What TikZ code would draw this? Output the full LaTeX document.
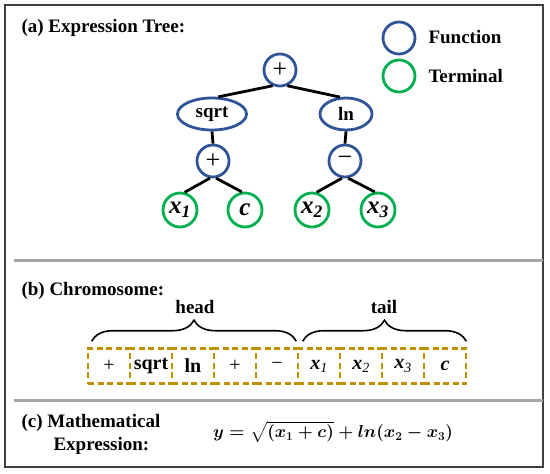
\documentclass[tikz,border=0pt]{standalone}
\usepackage{fontspec}
\setmainfont{Liberation Serif}
\usepackage{amsmath}
\definecolor{funcblue}{RGB}{47,85,151}
\definecolor{termgreen}{RGB}{0,176,80}
\definecolor{genegold}{RGB}{191,144,0}
\definecolor{sepgray}{RGB}{166,166,166}
\definecolor{framegray}{RGB}{64,64,64}
\usetikzlibrary{shapes.geometric,decorations.pathreplacing}

\begin{document}
\begin{tikzpicture}[x=1pt,y=-1pt,
    lbl/.style={font=\fontsize{19}{22}\selectfont\bfseries},
    func/.style={circle,draw=funcblue,line width=2.8pt,minimum size=32pt,inner sep=0pt,
      font=\fontsize{19}{22}\selectfont\bfseries},
    op/.style={func,font=\fontsize{26}{28}\selectfont},
    term/.style={circle,draw=termgreen,line width=2.8pt,minimum size=34pt,inner sep=0pt,
      font=\fontsize{25}{28}\selectfont\bfseries\itshape},
    gene/.style={draw=genegold,line width=2.6pt,dash pattern=on 6pt off 3.5pt,
      minimum width=42pt,minimum height=35pt,inner sep=0pt,font=\fontsize{20}{24}\selectfont},
    link/.style={line width=2.8pt},
    brc/.style={decorate,decoration={brace,amplitude=21pt},line width=1.6pt}]
        \useasboundingbox (0,0) rectangle (550,474);
        \draw[framegray,line width=2.5pt] (5,5) rectangle (543,467);
        \draw[sepgray,line width=3pt] (14,260) -- (543,260);
        \draw[sepgray,line width=3pt] (14,400) -- (543,400);
        % (a) tree
        \node[lbl,anchor=base west] (ttlA) at (18,32) {(a) Expression Tree:};
        \node[func] (keyF) at (399,38) {};
        \node[lbl,anchor=base west] (keyFtxt) at (425,43) {Function};
        \node[term,minimum size=32pt] (keyT) at (399,76) {};
        \node[lbl,anchor=base west] (keyTtxt) at (425,82) {Terminal};
        \node[op] (root) at (280,70) {+};
        \node[func,ellipse,minimum width=69pt] (sqrt) at (212,114) {sqrt};
        \node[func,ellipse,minimum width=52pt] (ln) at (346,114) {ln};
        \node[op] (add) at (213,161) {+};
        \node[op] (sub) at (345,161) {−};
        \node[term] (x1) at (180,210) {x\textsubscript{1}};
        \node[term] (c) at (245,210) {c};
        \node[term] (x2) at (312,210) {x\textsubscript{2}};
        \node[term] (x3) at (378,210) {x\textsubscript{3}};
        \draw[link] (root.-115) -- (sqrt.70);
        \draw[link] (root.-65) -- (ln.110);
        \draw[link] (sqrt.south) -- (add.north);
        \draw[link] (ln.south) -- (sub.north);
        \draw[link] (add.-100) -- (x1.75);
        \draw[link] (add.-80) -- (c.100);
        \draw[link] (sub.-100) -- (x2.75);
        \draw[link] (sub.-80) -- (x3.100);
        % (b) chromosome
        \node[lbl,anchor=base west] (ttlB) at (18,295) {(b) Chromosome:};
        \foreach \sym [count=\i] in {+,\textbf{sqrt},\textbf{ln},+,−,
            \textbf{\textit{x}}\textsubscript{\textit{1}},\textbf{\textit{x}}\textsubscript{\textit{2}},
            \textbf{\textit{x}}\textsubscript{\textit{3}},\textbf{\textit{c}}}
          \node[gene] (g\i) at ({67+42*\i},366) {\sym};
        \draw[brc] ([xshift=5pt,yshift=6pt]g1.north west) -- ([xshift=-3pt,yshift=6pt]g5.north east);
        \draw[brc] ([xshift=6pt,yshift=6pt]g6.north west) -- ([xshift=-1pt,yshift=6pt]g9.north east);
        \node[lbl,anchor=base] (head) at (195,313) {head};
        \node[lbl,anchor=base] (tail) at (384,313) {tail};
        % (c) expression
        \node[lbl,anchor=base west] (ttlC) at (18,427) {(c) Mathematical};
        \node[lbl,anchor=base west] (ttlC2) at (50,450) {Expression:};
        \node[font=\fontsize{18}{22}\selectfont] (expr) at (333,432)
          {$\boldsymbol{y=\sqrt{(x_1+c)}+ln(x_2-x_3)}$};
      \end{tikzpicture}
\end{document}
